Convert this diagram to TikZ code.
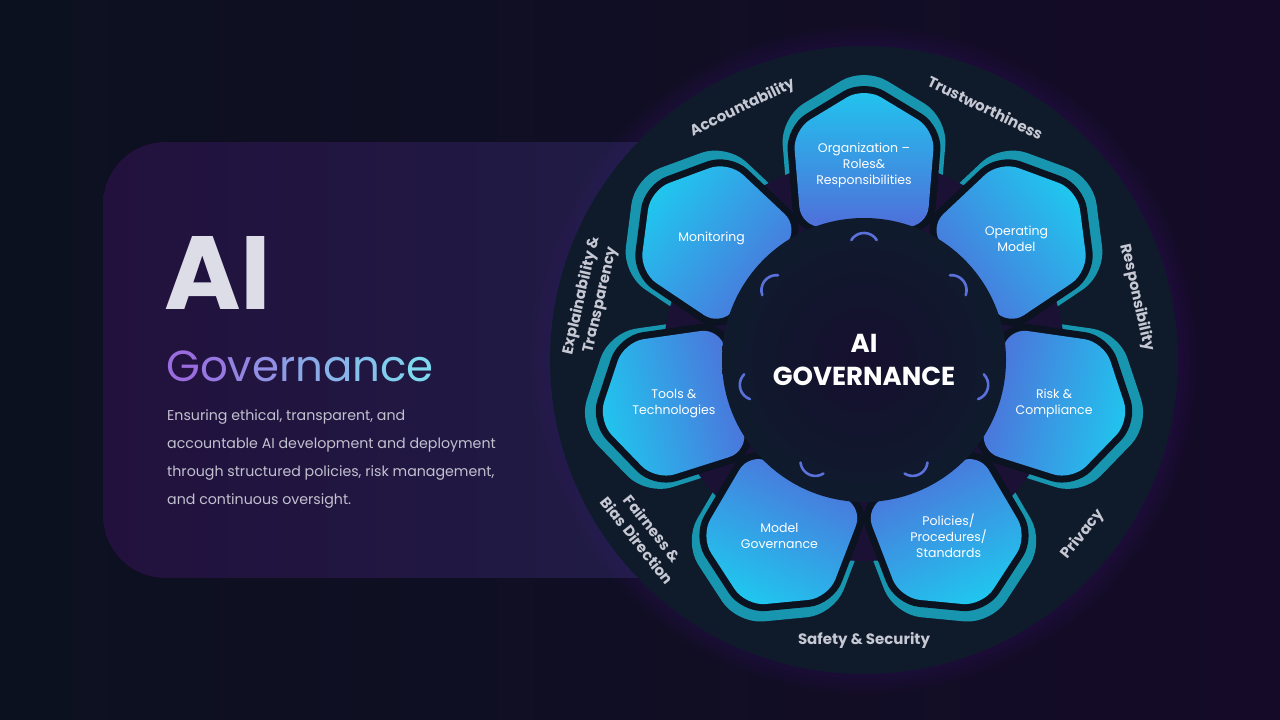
\documentclass[tikz,border=0pt]{standalone}
\usepackage{fontspec}
\setmainfont{Poppins}
\usetikzlibrary{positioning,calc}

\definecolor{bgLeft}{HTML}{0C1120}
\definecolor{bgRight}{HTML}{150B28}
\definecolor{panelL}{HTML}{22113D}
\definecolor{panelR}{HTML}{1F1D46}
\definecolor{glowPurple}{HTML}{3A1C66}
\definecolor{ringNavy}{HTML}{0F1B2B}
\definecolor{webPurple}{HTML}{1A1134}
\definecolor{rimTeal}{HTML}{1896B0}
\definecolor{edgeDark}{HTML}{0B1321}
\definecolor{petalOut}{HTML}{20C6EE}
\definecolor{petalIn}{HTML}{4F6FDA}
\definecolor{coreIn}{HTML}{160F2E}
\definecolor{coreOut}{HTML}{0F1B2D}
\definecolor{notchBlue}{HTML}{5A70DA}
\definecolor{lblGrey}{HTML}{C6C8D3}
\definecolor{titleGrey}{HTML}{DCDDE7}
\definecolor{bodyGrey}{HTML}{C2C1CF}
\definecolor{govA}{HTML}{9A6CDF}
\definecolor{govB}{HTML}{7ED9EE}

\newcommand\petalpath{(0,78) -- (71,35) -- (63,-62) -- (-63,-62) -- (-71,35) -- cycle}

\tikzset{
  rim/.style      ={draw=rimTeal,line width=24pt,line join=round,rounded corners=20pt},
  rimedge/.style  ={draw=edgeDark,line width=14pt,line join=round,rounded corners=20pt},
  petal/.style    ={rounded corners=20pt,top color=petalOut,bottom color=petalIn},
  petaltxt/.style ={align=center,text=white,inner sep=0pt,font=\fontsize{12.5}{16}\selectfont},
  core/.style     ={circle,minimum size=284pt,inner sep=0pt,inner color=coreIn,outer color=coreOut,
                    align=center,text=white,font=\fontsize{26}{33}\selectfont\bfseries},
  notch/.style    ={draw=notchBlue,line width=2.6pt,line cap=round},
  ringlbl/.style  ={align=center,text=lblGrey,inner sep=0pt,font=\fontsize{15}{19.5}\selectfont\bfseries},
}

\begin{document}
\begin{tikzpicture}[x=1pt,y=1pt]
  \useasboundingbox (0,0) rectangle (1280,720);
  \fill[left color=bgLeft,right color=bgRight] (0,0) rectangle (1280,720);
  \fill[rounded corners=62pt,left color=panelL,right color=panelR] (103,142) rectangle (700,578);

  \coordinate (C) at (864,360);
  \foreach \g in {8,...,1}{\fill[glowPurple,opacity=0.045] (C) circle ({314+2.5*\g});}
  \fill[ringNavy] (C) circle (314);

  % teal rims, cut back by the web
  \foreach \i/\n in {0/org,1/opm,2/risk,3/pol,4/mod,5/tool,6/mon}{
    \pgfmathsetmacro\a{90-360/7*\i}
    \pgfmathsetmacro\r{\a-90}
    \coordinate (P\n) at ([shift={(\a:195)}]C);
    \draw[rim,shift={([shift={(\a:6)}]P\n)},rotate=\r] \petalpath;
  }
  \fill[webPurple] (C) circle (201);

  \foreach \i/\n/\txt in {0/org/{Organization --\\Roles\&\\Responsibilities},1/opm/{Operating\\Model},
      2/risk/{Risk \&\\Compliance},3/pol/{Policies/\\Procedures/\\Standards},4/mod/{Model\\Governance},
      5/tool/{Tools \&\\Technologies},6/mon/{Monitoring}}{
    \pgfmathsetmacro\r{-360/7*\i}
    \draw[rimedge,shift={(P\n)},rotate=\r] \petalpath;
    \path[petal,shading angle=\r,shift={(P\n)},rotate=\r] \petalpath;
    \node[petaltxt] (\n) at (P\n) {\txt};
  }

  \node[core] (core) at (C) {AI\\GOVERNANCE};
  \foreach \i in {0,...,6}{
    \pgfmathsetmacro\a{90-360/7*\i}
    \draw[notch] ([shift={(\a:112)}]C) ++(\a-58:15) arc[start angle=\a-58,end angle=\a+58,radius=15];
  }

  % values round the ring
  \foreach \a/\n/\txt in {64.29/trust/Trustworthiness,12.86/resp/Responsibility,-38.57/priv/Privacy,
      -90/safe/{Safety \& Security},-141.43/fair/{Fairness \&\\Bias Direction},
      167.14/expl/{Explainability \&\\Transparency},115.71/acc/Accountability}{
    \pgfmathsetmacro\t{sin(\a)>0 ? \a-90 : \a+90}
    \node[ringlbl,rotate=\t] (\n) at ([shift={(\a:280)}]C) {\txt};
  }

  \node[anchor=base west,inner sep=0pt,text=titleGrey,font=\fontsize{104}{104}\selectfont\bfseries] (ai) at (164,410) {AI};
  \node[anchor=base west,inner sep=0pt,font=\fontsize{43.5}{44}\selectfont] (gov) at (166,338)
    {\textcolor{govA}{G}\textcolor{govA!89!govB}{o}\textcolor{govA!78!govB}{v}\textcolor{govA!67!govB}{e}%
     \textcolor{govA!56!govB}{r}\textcolor{govA!44!govB}{n}\textcolor{govA!33!govB}{a}\textcolor{govA!22!govB}{n}%
     \textcolor{govA!11!govB}{c}\textcolor{govB}{e}};
  \node[anchor=north west,inner sep=0pt,align=left,text=bodyGrey,font=\fontsize{14.2}{28}\selectfont] (desc) at (167,311)
    {Ensuring ethical, transparent, and\\accountable AI development and deployment\\through structured policies, risk management,\\and continuous oversight.};
\end{tikzpicture}
\end{document}
